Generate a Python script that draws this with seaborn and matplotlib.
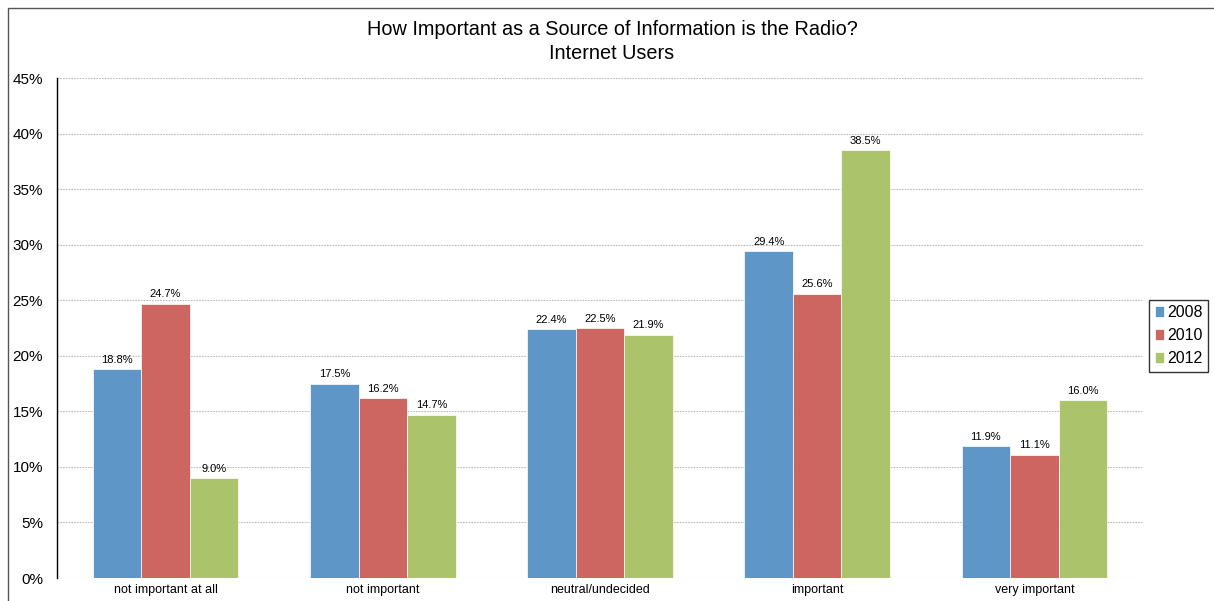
import matplotlib
matplotlib.use("Agg")
import matplotlib.pyplot as plt
import seaborn as sns
import pandas as pd
from matplotlib.patches import Rectangle

categories = ["not important at all", "not important", "neutral/undecided", "important", "very important"]
years = ["2008", "2010", "2012"]
v2008 = [18.8, 17.5, 22.4, 29.4, 11.9]
v2010 = [24.7, 16.2, 22.5, 25.6, 11.1]
v2012 = [9.0, 14.7, 21.9, 38.5, 16.0]
colors = ["#5F96C8", "#CD6560", "#ABC46C"]

rows = []
for yr, vals in zip(years, [v2008, v2010, v2012]):
    for c, v in zip(categories, vals):
        rows.append({"category": c, "year": yr, "value": v})
df = pd.DataFrame(rows)

sns.set_theme(style="white")
plt.rcParams['font.family'] = ['Liberation Sans', 'DejaVu Sans']
plt.rcParams['text.color'] = 'black'
plt.rcParams['xtick.color'] = 'black'
plt.rcParams['ytick.color'] = 'black'

fig = plt.figure(figsize=(12.14, 6.01), dpi=100)
ax = fig.add_axes([57/1214, 23/601, (1143-57)/1214, 500/601])

sns.barplot(data=df, x="category", y="value", hue="year", order=categories,
            hue_order=years, palette=colors, width=0.67, gap=0, ax=ax,
            edgecolor="white", linewidth=0.5, errorbar=None, saturation=1)

ax.set_ylim(0, 45)
ax.set_yticks(range(0, 46, 5))
ax.set_yticklabels([f"{t}%" for t in range(0, 46, 5)], fontsize=11)
ax.yaxis.grid(True, linestyle=(0, (1.5, 1)), color="#bcbcbc", linewidth=0.8)
ax.set_axisbelow(True)
ax.tick_params(axis="y", length=0, pad=10)
ax.tick_params(axis="x", length=0, pad=4, labelsize=9)
ax.set_xlabel("")
ax.set_ylabel("")
for s in ["top", "right", "bottom"]:
    ax.spines[s].set_visible(False)
ax.spines["left"].set_color("black")
ax.spines["left"].set_linewidth(1)

for cont in ax.containers:
    ax.bar_label(cont, labels=[f"{v:.1f}%" for v in cont.datavalues], fontsize=8, padding=3, color="black")

leg = ax.legend(loc="upper left", bbox_to_anchor=(1092/1086, 0.557), fontsize=11.5,
                frameon=True, fancybox=False, edgecolor="black", handlelength=0.6,
                handleheight=0.6, handletextpad=0.2, borderpad=0.35, labelspacing=0.5,
                borderaxespad=0)
leg.get_frame().set_linewidth(1)

fig.text(612/1214, 1 - 41.5/601, "How Important as a Source of Information is the Radio?\nInternet Users",
         ha="center", va="center", fontsize=14.3, linespacing=1.3)

fig.patches.append(Rectangle((8/1214, -0.1), 1.2, 1 - 8/601 + 0.1, transform=fig.transFigure,
                             fill=False, edgecolor="#555555", linewidth=1))

fig.savefig("out.png", dpi=100)
